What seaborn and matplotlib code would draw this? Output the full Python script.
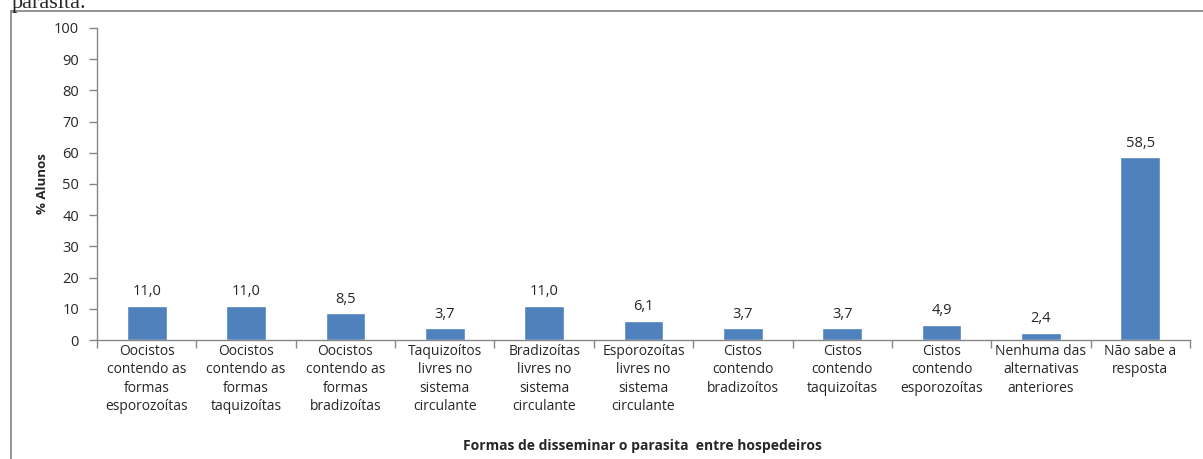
import matplotlib
matplotlib.use("Agg")
import matplotlib.pyplot as plt
import seaborn as sns
import pandas as pd
from matplotlib.lines import Line2D

categories = [
    "Oocistos\ncontendo as\nformas\nesporozoítas",
    "Oocistos\ncontendo as\nformas\ntaquizoítas",
    "Oocistos\ncontendo as\nformas\nbradizoítas",
    "Taquizoítos\nlivres no\nsistema\ncirculante",
    "Bradizoítas\nlivres no\nsistema\ncirculante",
    "Esporozoítas\nlivres no\nsistema\ncirculante",
    "Cistos\ncontendo\nbradizoítos",
    "Cistos\ncontendo\ntaquizoítas",
    "Cistos\ncontendo\nesporozoítas",
    "Nenhuma das\nalternativas\nanteriores",
    "Não sabe a\nresposta",
]
values = [11.0, 11.0, 8.5, 3.7, 11.0, 6.1, 3.7, 3.7, 4.9, 2.4, 58.5]
y_ticks = [0, 10, 20, 30, 40, 50, 60, 70, 80, 90, 100]

sns.set_style("white")
plt.rcParams['font.family'] = ['Open Sans', 'DejaVu Sans']

fig = plt.figure(figsize=(12.03, 4.59), dpi=100)
ax = fig.add_axes([97/1203, 1 - 340/459, (1190 - 97)/1203, (340 - 28)/459])

df = pd.DataFrame({"cat": categories, "val": values})
sns.barplot(data=df, x="cat", y="val", color="#4F81BD", saturation=1,
            width=0.4, ax=ax)

ax.set_ylim(0, 100)
ax.set_xlim(-0.5, len(categories) - 0.5)
ax.set_yticks(y_ticks)
ax.set_yticklabels([str(t) for t in y_ticks], fontsize=10.5)
ax.tick_params(axis='y', length=6, width=1, color="#868686", direction='out', pad=7, left=True)
ax.tick_params(axis='x', which='major', length=0, pad=3, labelsize=10)
ax.set_xticks([i - 0.5 for i in range(len(categories) + 1)], minor=True)
ax.tick_params(axis='x', which='minor', length=6, width=1, color="#868686", direction='out', bottom=True)
for lab in ax.get_xticklabels():
    lab.set_linespacing(1.3)

for s in ["top", "right"]:
    ax.spines[s].set_visible(False)
for s in ["left", "bottom"]:
    ax.spines[s].set_color("#868686")
    ax.spines[s].set_linewidth(1)

for i, v in enumerate(values):
    ax.annotate(f"{v:.1f}".replace(".", ","), (i, v), xytext=(0, 5),
                textcoords="offset points", ha="center", va="bottom", fontsize=10.5)

ax.set_xlabel("")
ax.set_ylabel("")
fig.text(42/1203, 1 - 184/459, "% Alunos", rotation=90, ha="center", va="center",
         fontsize=9.5, fontweight="bold")
fig.text(642/1203, 1 - 446/459, "Formas de disseminar o parasita  entre hospedeiros",
         ha="center", va="center", fontsize=10, fontweight="bold")

# outer chart frame
fig.add_artist(Line2D([11/1203, 11/1203], [0, 1 - 11/459], transform=fig.transFigure,
                      color="#808080", lw=1.2))
fig.add_artist(Line2D([11/1203, 1], [1 - 11/459, 1 - 11/459], transform=fig.transFigure,
                      color="#808080", lw=1.2))
fig.text(12/1203, 1 - 8/459, "parasita.", family="Liberation Serif", fontsize=16,
         ha="left", va="baseline")

fig.savefig("out.png", dpi=100)
